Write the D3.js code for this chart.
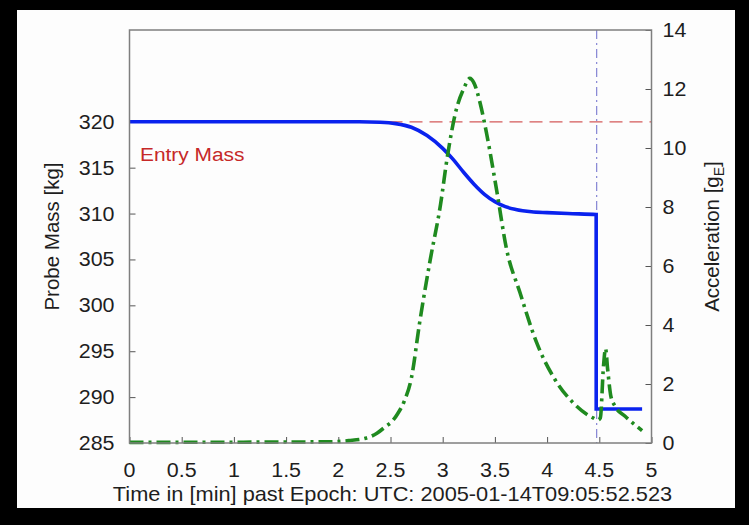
<!DOCTYPE html>
<html>
<head>
<meta charset="utf-8">
<script src="https://cdn.jsdelivr.net/npm/d3@7"></script>
<style>
  html, body { margin: 0; padding: 0; background: #000; }
  svg { display: block; }
  text { font-family: "Liberation Sans", Arial, Helvetica, sans-serif; fill: #1e1e1e; }
</style>
</head>
<body>
<svg id="chart" width="749" height="525"></svg>
<script>
// Probe mass during entry (left axis, kg)
const massTime  = [0, 2.2, 2.4, 2.55, 2.7, 2.85, 3.0, 3.1, 3.2, 3.3, 3.4, 3.5, 3.6, 3.7, 3.85, 4.0, 4.2, 4.47, 4.4705, 4.91];
const massValue = [320, 320, 319.95, 319.8, 319.4, 318.5, 317.1, 315.9, 314.5, 313.2, 312.1, 311.3, 310.75, 310.45, 310.2, 310.1, 310.0, 309.9, 288.7, 288.7];

// Deceleration load (right axis, g_E)
const accTime  = [0, 1.9, 2.1, 2.25, 2.37, 2.45, 2.52, 2.57, 2.63, 2.7, 2.78, 2.88, 2.98, 3.04, 3.13, 3.2, 3.26, 3.3, 3.36, 3.42, 3.52, 3.61, 3.74, 3.9, 4.06, 4.25, 4.44, 4.49, 4.51, 4.54, 4.56, 4.58, 4.61, 4.65, 4.75, 4.83, 4.91];
const accValue = [0.02, 0.04, 0.08, 0.15, 0.33, 0.55, 0.75, 1.0, 1.4, 2.2, 4.1, 6.2, 8.1, 9.6, 11.3, 12.0, 12.36, 12.2, 11.5, 10.5, 8.5, 6.6, 5.1, 3.4, 2.24, 1.36, 0.85, 0.78, 0.85, 2.6, 3.2, 2.5, 1.6, 1.25, 0.9, 0.65, 0.42];

const entryMass = 320;
const eventTime = 4.475;

const xTicks    = [0, 0.5, 1, 1.5, 2, 2.5, 3, 3.5, 4, 4.5, 5];
const xTickText = ["0", "0.5", "1", "1.5", "2", "2.5", "3", "3.5", "4", "4.5", "5"];
const massTicks = [285, 290, 295, 300, 305, 310, 315, 320];
const accTicks  = [0, 2, 4, 6, 8, 10, 12, 14];

const svg = d3.select("#chart");
const SX = 1.1; // horizontal glyph stretch for horizontal labels

// white page panel inside the dark surround
svg.append("rect").attr("x", 17).attr("y", 10).attr("width", 718).attr("height", 498).attr("fill", "#fdfdfd");

const x = d3.scaleLinear().domain([0, 5]).range([129.5, 651.5]);
const yM = d3.scaleLinear().domain([285, 330]).range([443, 30]);
const yA = d3.scaleLinear().domain([0, 14]).range([443, 30]);

function label(px, py, str, anchor, size, color) {
  const g = svg.append("g").attr("transform", `translate(${px},${py}) scale(${SX},1)`);
  const t = g.append("text").attr("text-anchor", anchor).attr("font-size", size).text(str);
  if (color) t.style("fill", color);
  return t;
}

// axes: inward ticks, labels drawn separately
const tickStyle = g => {
  g.select(".domain").remove();
  g.selectAll(".tick line").attr("stroke", "#555").attr("stroke-width", 1);
};
svg.append("g").attr("transform", `translate(0,${yM(285)})`)
  .call(d3.axisBottom(x).tickValues(xTicks).tickSize(-6).tickFormat(() => ""))
  .call(tickStyle);
svg.append("g").attr("transform", `translate(${x(0)},0)`)
  .call(d3.axisLeft(yM).tickValues(massTicks).tickSize(-6).tickFormat(() => ""))
  .call(tickStyle);
svg.append("g").attr("transform", `translate(${x(5)},0)`)
  .call(d3.axisRight(yA).tickValues(accTicks).tickSize(-6).tickFormat(() => ""))
  .call(tickStyle);

xTicks.forEach((v, i) => label(x(v), 477, xTickText[i], "middle", 19.5));
massTicks.forEach(v => label(x(0) - 15, yM(v) + 7, String(v), "end", 19.5));
accTicks.forEach(v => label(x(5) + 11, yA(v) + 7, String(v), "start", 19.5));

// entry mass reference
svg.append("line")
  .attr("x1", x(0)).attr("x2", x(5)).attr("y1", yM(entryMass)).attr("y2", yM(entryMass))
  .attr("stroke", "#d45a5a").attr("stroke-width", 1.2).attr("stroke-dasharray", "13,7");
label(140, 161, "Entry Mass", "start", 19, "#c62828");

// event marker
svg.append("line")
  .attr("x1", x(eventTime)).attr("x2", x(eventTime)).attr("y1", yA(14)).attr("y2", yA(0))
  .attr("stroke", "#7a7ad0").attr("stroke-width", 1.1).attr("stroke-dasharray", "9,4,2,4");

// mass curve
const massLine = d3.line().x(d => x(d[0])).y(d => yM(d[1])).curve(d3.curveMonotoneX);
svg.append("path").datum(massTime.map((t, i) => [t, massValue[i]]))
  .attr("d", massLine).attr("fill", "none").attr("stroke", "#0a22ee").attr("stroke-width", 3.6)
  .attr("stroke-linejoin", "miter");

// acceleration curve
const accLine = d3.line().x(d => x(d[0])).y(d => yA(d[1])).curve(d3.curveMonotoneX);
svg.append("path").datum(accTime.map((t, i) => [t, accValue[i]]))
  .attr("d", accLine).attr("fill", "none").attr("stroke", "#1f8a1f").attr("stroke-width", 3.6)
  .attr("stroke-dasharray", "14,5,3,5");

// plot frame
svg.append("rect").attr("x", x(0)).attr("y", yA(14)).attr("width", x(5) - x(0)).attr("height", yA(0) - yA(14))
  .attr("fill", "none").attr("stroke", "#7f7f7f").attr("stroke-width", 1.5);

// axis titles
label((x(0) + x(5)) / 2 + 2, 501, "Time in [min] past Epoch: UTC: 2005-01-14T09:05:52.523", "middle", 19.8);

svg.append("text").attr("transform", `translate(59,${(yA(0) + yA(14)) / 2}) rotate(-90)`)
  .attr("text-anchor", "middle").attr("font-size", 20.5).text("Probe Mass [kg]");

const accTitle = svg.append("text").attr("transform", `translate(719,${(yA(0) + yA(14)) / 2}) rotate(-90)`)
  .attr("text-anchor", "middle").attr("font-size", 20.5);
accTitle.append("tspan").text("Acceleration [g");
accTitle.append("tspan").attr("font-size", 14).attr("dy", 5).text("E");
accTitle.append("tspan").attr("dy", -5).text("]");
</script>
</body>
</html>
